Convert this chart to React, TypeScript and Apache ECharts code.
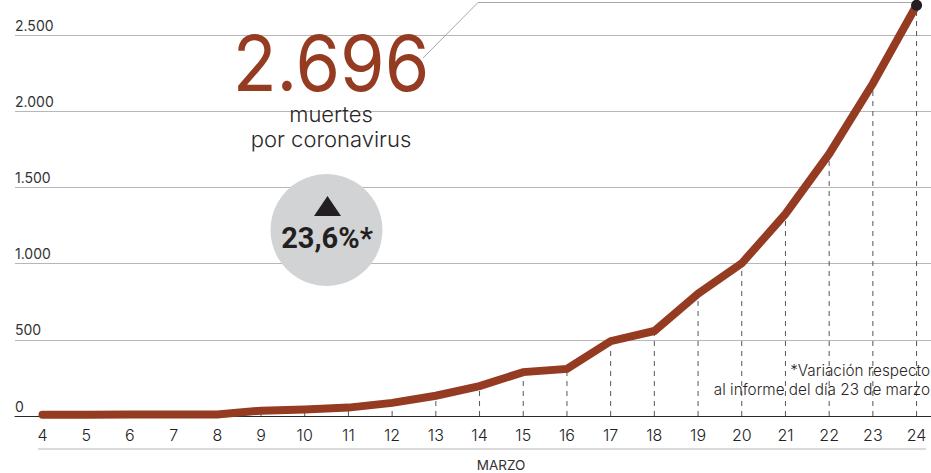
import React, { useEffect, useRef } from "react";
import * as echarts from "echarts";

const days = [4, 5, 6, 7, 8, 9, 10, 11, 12, 13, 14, 15, 16, 17, 18, 19, 20, 21, 22, 23, 24];
const deaths = [8, 9, 10, 10, 10, 35, 42, 55, 86, 133, 196, 288, 309, 491, 558, 803, 1002, 1326, 1720, 2182, 2696];
const FONT = "Inter";
const INK = "#2a2728";
const RUST = "#943b22";

export default function App() {
  const ref = useRef<HTMLDivElement>(null);
  useEffect(() => {
    document.body.style.margin = "0";
    const chart = echarts.init(ref.current!, undefined, { renderer: "svg" });
    const pts = days.map((d, i) => [d, deaths[i]]);
    chart.setOption({
      animation: false,
      backgroundColor: "#fff",
      grid: { left: 15, right: 0, top: 0, bottom: 57 },
      xAxis: {
        type: "value",
        min: 3.371,
        max: 24.33,
        splitLine: { show: false },
        axisLine: { show: true, onZero: true, lineStyle: { color: "#2a2728", width: 1 } },
        axisTick: { show: false },
        axisLabel: {
          customValues: days,
          margin: 11,
          fontFamily: FONT,
          fontSize: 16,
          fontWeight: 300,
          color: "#222",
          formatter: (v: number) => String(v),
        },
      },
      yAxis: {
        type: "value",
        min: 0,
        max: 2730,
        interval: 500,
        axisLine: { show: false },
        axisTick: { show: false },
        splitLine: { show: true, showMaxLine: false, lineStyle: { color: "#b7b7b7", width: 1 } },
        axisLabel: {
          inside: true,
          margin: 0,
          showMaxLabel: false,
          verticalAlign: "bottom",
          padding: [0, 0, 3, 0],
          fontFamily: FONT,
          fontSize: 14,
          color: "#333",
          formatter: (v: number) => String(v).replace(/(\d)(\d{3})$/, "$1.$2"),
        },
      },
      series: [
        {
          type: "custom",
          silent: true,
          z: 2,
          clip: false,
          data: pts,
          renderItem: (_p: any, api: any) => {
            const a = api.coord([api.value(0), 0]);
            const b = api.coord([api.value(0), api.value(1)]);
            return {
              type: "line",
              shape: { x1: a[0], y1: a[1], x2: b[0], y2: b[1] },
              style: { stroke: "#555", lineWidth: 1, lineDash: [5, 5] },
            };
          },
        },
        {
          type: "line",
          data: pts,
          z: 3,
          clip: false,
          showSymbol: false,
          symbol: "none",
          lineStyle: { color: RUST, width: 8, cap: "round", join: "miter" },
        },
        {
          type: "scatter",
          z: 4,
          clip: false,
          data: pts.slice(-1),
          symbolSize: 11,
          itemStyle: { color: "#231f20", opacity: 1 },
        },
      ],
      graphic: [
        { type: "polyline", z: 5, shape: { points: [[423, 58], [478, 2.5], [912, 2.5]] }, style: { stroke: "#a8a8a8", lineWidth: 1, fill: "none" } },
        { type: "line", z: 5, shape: { x1: 38, y1: 449, x2: 926, y2: 449 }, style: { stroke: "#b7b7b7", lineWidth: 1 } },
        { type: "text", z: 5, x: 331, y: 63, scaleY: 1.07, style: { text: "2.696", font: `400 72px ${FONT}`, fill: RUST, textAlign: "center", textVerticalAlign: "middle" } },
        { type: "text", z: 5, x: 331, y: 114, style: { text: "muertes", font: `300 22px ${FONT}`, fill: INK, textAlign: "center", textVerticalAlign: "middle" } },
        { type: "text", z: 5, x: 331, y: 139, style: { text: "por coronavirus", font: `300 22px ${FONT}`, fill: INK, textAlign: "center", textVerticalAlign: "middle" } },
        { type: "circle", z: 5, shape: { cx: 326.5, cy: 230, r: 56 }, style: { fill: "#d1d3d4" } },
        { type: "polygon", z: 6, shape: { points: [[327.5, 196], [341, 216], [314, 216]] }, style: { fill: "#231f20" } },
        { type: "text", z: 6, x: 327, y: 238, style: { text: "23,6%*", font: `700 29px Roboto`, fill: "#231f20", textAlign: "center", textVerticalAlign: "middle" } },
        { type: "text", z: 6, x: 930, y: 370, style: { text: "*Variación respecto", font: `300 15.3px ${FONT}`, fill: INK, textAlign: "right", textVerticalAlign: "middle" } },
        { type: "text", z: 6, x: 930, y: 389, style: { text: "al informe del día 23 de marzo", font: `300 15.3px ${FONT}`, fill: INK, textAlign: "right", textVerticalAlign: "middle" } },
        { type: "text", z: 6, x: 501, y: 465, style: { text: "MARZO", font: `400 13.5px ${FONT}`, fill: "#333", textAlign: "center", textVerticalAlign: "middle" } },
      ],
    });
    return () => chart.dispose();
  }, []);
  return <div ref={ref} style={{ width: 931, height: 473 }} />;
}
